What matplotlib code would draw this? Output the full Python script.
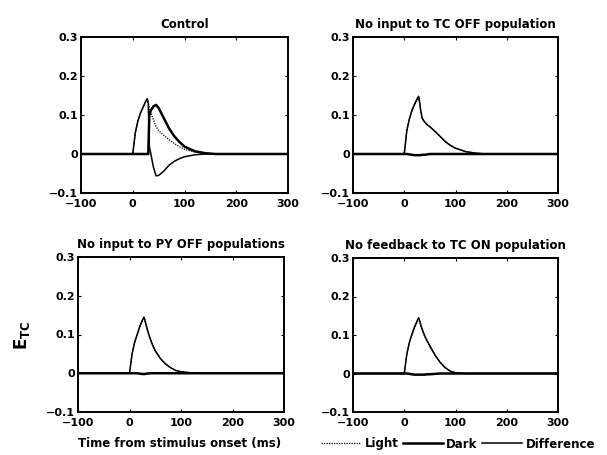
import matplotlib
matplotlib.use("Agg")
import matplotlib.pyplot as plt
from matplotlib.lines import Line2D

plt.rcParams['font.family'] = ['DejaVu Sans']
plt.rcParams['font.weight'] = 'bold'
plt.rcParams['mathtext.fontset'] = 'dejavusans'

# Shared time grid (ms)
t = [-100, 0, 5, 10, 15, 20, 25, 28, 30, 32, 35, 40, 45, 50, 60, 70, 80, 90, 100, 120, 140, 160, 200, 300]

titles = ["Control", "No input to TC OFF population",
          "No input to PY OFF populations", "No feedback to TC ON population"]

# Control
control_light = [0, 0, 0.055, 0.085, 0.105, 0.12, 0.135, 0.142, 0.13, 0.12, 0.105, 0.088, 0.07, 0.06, 0.048, 0.037, 0.027, 0.019, 0.012, 0.005, 0.002, 0, 0, 0]
control_dark = [0, 0, 0, 0, 0, 0, 0, 0, 0, 0.1, 0.112, 0.122, 0.126, 0.118, 0.092, 0.066, 0.046, 0.031, 0.019, 0.007, 0.002, 0, 0, 0]
control_diff = [0, 0, 0.055, 0.085, 0.105, 0.12, 0.135, 0.142, 0.13, 0.02, 0.0, -0.034, -0.056, -0.055, -0.044, -0.029, -0.019, -0.012, -0.007, -0.002, 0, 0, 0, 0]

# No input to TC OFF population
tcoff_light = [0, 0, 0.06, 0.09, 0.11, 0.125, 0.138, 0.145, 0.13, 0.11, 0.09, 0.08, 0.074, 0.07, 0.058, 0.045, 0.032, 0.022, 0.015, 0.006, 0.002, 0, 0, 0]
tcoff_dark = [0, 0, 0, -0.001, -0.002, -0.003, -0.003, -0.003, -0.003, -0.003, -0.002, -0.002, -0.001, 0, 0, 0, 0, 0, 0, 0, 0, 0, 0, 0]
tcoff_diff = [0, 0, 0.06, 0.09, 0.112, 0.128, 0.141, 0.148, 0.133, 0.113, 0.092, 0.082, 0.075, 0.07, 0.058, 0.045, 0.032, 0.022, 0.015, 0.006, 0.002, 0, 0, 0]

# No input to PY OFF populations
pyoff_light = [0, 0, 0.05, 0.08, 0.1, 0.12, 0.135, 0.143, 0.135, 0.125, 0.11, 0.09, 0.072, 0.058, 0.038, 0.024, 0.014, 0.007, 0.004, 0.001, 0, 0, 0, 0]
pyoff_dark = [0, 0, 0, 0, 0, -0.001, -0.002, -0.002, -0.002, -0.001, -0.001, 0, 0, 0, 0, 0, 0, 0, 0, 0, 0, 0, 0, 0]
pyoff_diff = [0, 0, 0.05, 0.08, 0.1, 0.121, 0.137, 0.145, 0.137, 0.126, 0.111, 0.09, 0.072, 0.058, 0.038, 0.024, 0.014, 0.007, 0.004, 0.001, 0, 0, 0, 0]

# No feedback to TC ON population
tcon_light = [0, 0, 0.05, 0.08, 0.1, 0.118, 0.133, 0.142, 0.135, 0.125, 0.112, 0.095, 0.082, 0.07, 0.047, 0.029, 0.015, 0.006, 0.002, 0, 0, 0, 0, 0]
tcon_dark = [0, 0, 0, -0.001, -0.002, -0.003, -0.003, -0.003, -0.003, -0.003, -0.003, -0.003, -0.002, -0.002, -0.001, 0, 0, 0, 0, 0, 0, 0, 0, 0]
tcon_diff = [0, 0, 0.05, 0.081, 0.102, 0.121, 0.136, 0.145, 0.138, 0.128, 0.115, 0.098, 0.084, 0.072, 0.048, 0.029, 0.015, 0.006, 0.002, 0, 0, 0, 0, 0]

series = [
    (control_light, control_dark, control_diff),
    (tcoff_light, tcoff_dark, tcoff_diff),
    (pyoff_light, pyoff_dark, pyoff_diff),
    (tcon_light, tcon_dark, tcon_diff),
]

xticks = [-100, 0, 100, 200, 300]
yticks = [-0.1, 0, 0.1, 0.2, 0.3]
yticklabels = ["\u22120.1", "0", "0.1", "0.2", "0.3"]
xticklabels = ["\u2212100", "0", "100", "200", "300"]

fig = plt.figure(figsize=(6.07, 4.55), dpi=100)
W, H = 607, 455
boxes = [
    (81, 37, 288, 193),
    (353, 37, 558, 193),
    (78, 257, 284, 412),
    (353, 258, 558, 412),
]

for (x0, y0, x1, y1), title, (li, da, di) in zip(boxes, titles, series):
    ax = fig.add_axes([x0 / W, 1 - y1 / H, (x1 - x0) / W, (y1 - y0) / H])
    ax.plot(t, li, color='black', lw=0.9, ls=(0, (1, 1)))
    ax.plot(t, da, color='black', lw=1.8)
    ax.plot(t, di, color='black', lw=1.1)
    ax.set_xlim(-100, 300)
    ax.set_ylim(-0.1, 0.3)
    ax.set_xticks(xticks)
    ax.set_xticklabels(xticklabels)
    ax.set_yticks(yticks)
    ax.set_yticklabels(yticklabels)
    ax.tick_params(direction='in', length=2, width=0.8, labelsize=8, top=True, right=True)
    ax.tick_params(axis='x', pad=4.5)
    ax.tick_params(axis='y', pad=2)
    for lab in ax.get_xticklabels() + ax.get_yticklabels():
        lab.set_fontweight('bold')
    for s in ax.spines.values():
        s.set_linewidth(1.4)
    ax.set_title(title, fontsize=8.5, fontweight='bold', pad=6.5)

fig.text(22 / W, 1 - 335 / H, r'$\mathbf{E}_{\mathbf{TC}}$', rotation=90,
         fontsize=12, ha='center', va='center')
fig.text(180 / W, 1 - 444 / H, "Time from stimulus onset (ms)", fontsize=8.5,
         fontweight='bold', ha='center', va='center')

handles = [Line2D([], [], color='black', lw=0.9, ls=(0, (1, 1))),
           Line2D([], [], color='black', lw=1.8),
           Line2D([], [], color='black', lw=1.1)]
fig.legend(handles, ["Light", "Dark", "Difference"], loc='center',
           bbox_to_anchor=(458 / W, 1 - 444 / H), ncol=3, frameon=False,
           handlelength=3.4, handletextpad=0.3, columnspacing=0.35,
           borderpad=0, prop={'weight': 'bold', 'size': 8.5})

fig.savefig("out.png", dpi=100)
